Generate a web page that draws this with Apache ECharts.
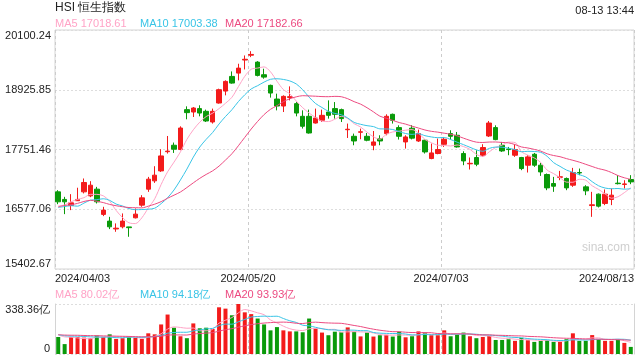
<!DOCTYPE html>
<html><head><meta charset="utf-8">
<script src="https://cdn.jsdelivr.net/npm/echarts@6/dist/echarts.min.js"></script>
<style>html,body{margin:0;padding:0;background:#fff}#c{width:640px;height:360px}</style>
</head><body><div id="c"></div>
<script>
const dates = [
 '2024/04/03','2024/04/05','2024/04/08','2024/04/09','2024/04/10','2024/04/11','2024/04/12','2024/04/15','2024/04/16','2024/04/17',
 '2024/04/18','2024/04/19','2024/04/22','2024/04/23','2024/04/24','2024/04/25','2024/04/26','2024/04/29','2024/04/30','2024/05/02',
 '2024/05/03','2024/05/06','2024/05/07','2024/05/08','2024/05/09','2024/05/10','2024/05/13','2024/05/14','2024/05/16','2024/05/17',
 '2024/05/20','2024/05/21','2024/05/22','2024/05/23','2024/05/24','2024/05/27','2024/05/28','2024/05/29','2024/05/30','2024/05/31',
 '2024/06/03','2024/06/04','2024/06/05','2024/06/06','2024/06/07','2024/06/11','2024/06/12','2024/06/13','2024/06/14','2024/06/17',
 '2024/06/18','2024/06/19','2024/06/20','2024/06/21','2024/06/24','2024/06/25','2024/06/26','2024/06/27','2024/06/28','2024/07/02',
 '2024/07/03','2024/07/04','2024/07/05','2024/07/08','2024/07/09','2024/07/10','2024/07/11','2024/07/12','2024/07/15','2024/07/16',
 '2024/07/17','2024/07/18','2024/07/19','2024/07/22','2024/07/23','2024/07/24','2024/07/25','2024/07/26','2024/07/29','2024/07/30',
 '2024/07/31','2024/08/01','2024/08/02','2024/08/05','2024/08/06','2024/08/07','2024/08/08','2024/08/09','2024/08/12','2024/08/13'];
const opens = [
 16919,16770,16652,16745,16919,16840,16972,16476,16344,16190,
 16232,16230,16409,16658,16972,17135,17331,17708,17835,17751,
 18535,18488,18555,18502,18292,18665,18900,19188,19253,19510,
 19605,19469,19221,19012,18743,18606,18775,18653,18404,18404,
 18272,18325,18488,18555,18535,18140,18011,18090,18011,17835,
 17966,18064,18443,18182,17900,18170,17919,17933,17574,17672,
 17854,18064,18031,17672,17470,17594,17639,18017,18182,17835,
 17760,17639,17594,17443,17658,17443,17260,17083,17205,17182,
 17050,17300,17017,16650,16874,16691,16770,17090,17065,17162];
const closes = [
 16723,16723,16703,16770,17103,17050,16723,16560,16232,16205,
 16344,16215,16481,16801,17168,17247,17625,17720,17757,18174,
 18476,18567,18468,18312,18502,18927,19090,19057,19351,19525,
 19620,19208,19174,18861,18606,18796,18790,18468,18208,18076,
 18370,18423,18423,18443,18358,18150,17919,18100,17933,17900,
 17919,18404,18325,18011,17998,17975,18064,17704,17684,17751,
 17953,18011,17802,17527,17480,17462,17790,18272,17946,17723,
 17750,17751,17377,17606,17443,17311,16997,17030,17215,16997,
 17299,17290,16939,16665,16638,16874,16854,17080,17075,17115];
const lows = [
 16677,16481,16560,16740,16888,16815,16691,16442,16187,16134,
 16201,16036,16397,16625,16919,17095,17311,17672,17684,17737,
 18345,18390,18404,18292,18261,18653,18816,19045,19110,19325,
 19567,19188,19143,18771,18521,18488,18717,18403,18163,18064,
 18261,18292,18358,18358,18292,17978,17835,17953,17913,17737,
 17835,18031,18261,17947,17770,17950,17900,17672,17560,17658,
 17802,17947,17789,17443,17358,17423,17606,17998,17933,17704,
 17639,17606,17345,17299,17410,17233,16952,16919,17148,16952,
 17017,17247,16854,16428,16612,16658,16658,17065,16985,17070];
const highs = [
 16952,16821,16874,17000,17182,17129,17017,16625,16428,16299,
 16495,16232,16593,16854,17213,17423,17757,18017,17888,18207,
 18600,18586,18620,18535,18555,18947,19110,19286,19437,19600,
 19684,19488,19339,19026,18849,18816,18992,18684,18521,18535,
 18555,18535,18717,18684,18555,18261,18064,18162,18076,18115,
 18031,18443,18457,18227,18031,18230,18143,17946,17868,17966,
 17998,18129,18096,17717,17594,17737,17855,18312,18227,17900,
 17802,17855,17606,17639,17684,17488,17280,17213,17331,17201,
 17390,17377,17050,16919,16887,16966,16985,17247,17148,17247];
const volumes = [
 115,67,115,115,111,107,125,115,133,102,
 107,115,109,102,140,133,200,267,178,120,
 107,207,174,178,169,316,307,262,338.36,282,
 270,240,200,160,182,160,153,153,147,240,
 172,145,127,151,147,180,151,119,145,118,
 127,130,118,151,113,120,153,145,127,127,
 160,120,133,145,120,107,115,122,95,95,
 100,89,109,93,82,89,93,82,82,100,
 140,89,89,128,100,89,89,95,75,48];
// closes / volumes of the 19 sessions before the first one shown (estimated from the MA start levels)
const priorCloses = [16162,16438,16229,16353,16588,17093,17082,16962,16721,16737,16530,16543,16863,16499,16473,16618,16392,16541,16931];
const priorVolumes = [128,135,122,140,131,126,150,138,129,124,133,142,120,127,136,131,125,139,133];
const priceTicks = ['15402.67','16577.06','17751.46','18925.85','20100.24'];
const priceMin = 15402.67, priceMax = 20100.24;
const volMax = 338.36;
const volTicks = ['0','338.36亿'];
const titleText = 'HSI 恒生指数';
const timeText = '08-13 13:44';
const priceMaLegend = ['MA5 17018.61','MA10 17003.38','MA20 17182.66'];
const volMaLegend = ['MA5 80.02亿','MA10 94.18亿','MA20 93.93亿'];
const maPeriods = [5,10,20];

const UP = '#f31b1b', DOWN = '#0a9a0a';
const MA_COLORS = ['#ffa3c6','#38c4e6','#ec4a80'];
const FONT = '"Liberation Sans", Arial, sans-serif';

function movingAvg(prior, vals, n) {
  const all = prior.concat(vals);
  return vals.map((_, i) => {
    const end = prior.length + i;
    let s = 0;
    for (let k = end - n + 1; k <= end; k++) s += all[k];
    return +(s / n).toFixed(2);
  });
}

const candleData = dates.map((d, i) => [opens[i], closes[i], lows[i], highs[i]]);
const volData = volumes.map((v, i) => ({ value: v, itemStyle: { color: closes[i] >= opens[i] ? UP : DOWN } }));

const chart = echarts.init(document.getElementById('c'), null, { renderer: 'canvas' });

const series = [{
  type: 'candlestick', xAxisIndex: 0, yAxisIndex: 0, data: candleData, barWidth: 5,
  itemStyle: { color: UP, color0: DOWN, borderColor: UP, borderColor0: DOWN, borderWidth: 1 }
}];
maPeriods.forEach((n, k) => {
  series.push({ type: 'line', xAxisIndex: 0, yAxisIndex: 0, data: movingAvg(priorCloses, closes, n),
    showSymbol: false, smooth: 0.3, lineStyle: { width: 1, color: MA_COLORS[k] }, z: 3 });
});
series.push({ type: 'bar', xAxisIndex: 2, yAxisIndex: 2, data: volData, barWidth: 4 });
maPeriods.forEach((n, k) => {
  series.push({ type: 'line', xAxisIndex: 2, yAxisIndex: 2, data: movingAvg(priorVolumes, volumes, n),
    showSymbol: false, smooth: 0.3, lineStyle: { width: 1, color: MA_COLORS[k] }, z: 3 });
});

const graphics = [
  { type: 'text', left: 55, top: 2, style: { text: titleText, fill: '#222', font: '12px ' + FONT } },
  { type: 'text', right: 6, top: 5, style: { text: timeText, fill: '#222', font: '11px ' + FONT } },
  { type: 'text', left: 582, top: 242, style: { text: 'sina.com', fill: '#cfcfcf', font: '12px ' + FONT } }
];
const legX = [55, 140, 225];
priceMaLegend.forEach((t, k) => graphics.push({ type: 'text', left: legX[k], top: 18, style: { text: t, fill: MA_COLORS[k], font: '11px ' + FONT } }));
volMaLegend.forEach((t, k) => graphics.push({ type: 'text', left: legX[k], top: 289, style: { text: t, fill: MA_COLORS[k], font: '11px ' + FONT } }));

chart.setOption({
  animation: false,
  textStyle: { fontFamily: FONT },
  grid: [
    { left: 55, right: 6, top: 30, height: 239, show: true, borderColor: '#d4d4d4', borderWidth: 1 },
    { left: 55, right: 6, top: 304, height: 50 }
  ],
  xAxis: [
    { type: 'category', gridIndex: 0, position: 'bottom', data: dates, boundaryGap: true, axisLine: { show: false }, axisTick: { show: false }, axisLabel: { show: false }, splitLine: { show: false } },
    { type: 'value', gridIndex: 0, position: 'bottom', min: 0, max: dates.length, interval: 30, axisLine: { show: false }, axisTick: { show: false },
      splitLine: { show: true, lineStyle: { type: [3, 3], color: '#cccccc' } },
      axisLabel: { formatter: v => dates[Math.min(v, dates.length - 1)], alignMinLabel: 'left', alignMaxLabel: 'right', margin: 4, fontSize: 11, color: '#222' } },
    { type: 'category', gridIndex: 1, position: 'bottom', data: dates, boundaryGap: true, axisLine: { show: false }, axisTick: { show: false }, axisLabel: { show: false }, splitLine: { show: false } },
    { type: 'value', gridIndex: 1, position: 'bottom', min: 0, max: dates.length, interval: 30, axisLine: { show: false }, axisTick: { show: false }, axisLabel: { show: false },
      splitLine: { show: true, lineStyle: { type: [3, 3], color: '#cccccc' } } }
  ],
  yAxis: [
    { type: 'value', gridIndex: 0, position: 'right', min: priceMin, max: priceMax, show: false },
    { type: 'value', gridIndex: 0, position: 'left', min: 0, max: priceTicks.length - 1, interval: 1, axisLine: { show: false }, axisTick: { show: false },
      splitLine: { show: true, lineStyle: { type: [2, 2], color: '#dddddd' } },
      axisLabel: { formatter: v => priceTicks[v], fontSize: 11, color: '#222', margin: 4, verticalAlignMinLabel: 'bottom', verticalAlignMaxLabel: 'top' } },
    { type: 'value', gridIndex: 1, position: 'left', min: 0, max: volMax, interval: volMax,
      axisLine: { show: true, lineStyle: { color: '#d4d4d4' } }, axisTick: { show: false },
      splitLine: { show: true, lineStyle: { type: [2, 2], color: '#dddddd' } },
      axisLabel: { formatter: v => (v < 1 ? volTicks[0] : volTicks[1]), fontSize: 11, color: '#222', margin: 5, verticalAlignMinLabel: 'bottom', verticalAlignMaxLabel: 'top' } },
    { type: 'value', gridIndex: 1, position: 'right', min: 0, max: volMax,
      axisLine: { show: true, lineStyle: { color: '#d4d4d4' } }, axisTick: { show: false }, axisLabel: { show: false }, splitLine: { show: false } }
  ],
  graphic: graphics,
  series: series
});
</script>
</body></html>
